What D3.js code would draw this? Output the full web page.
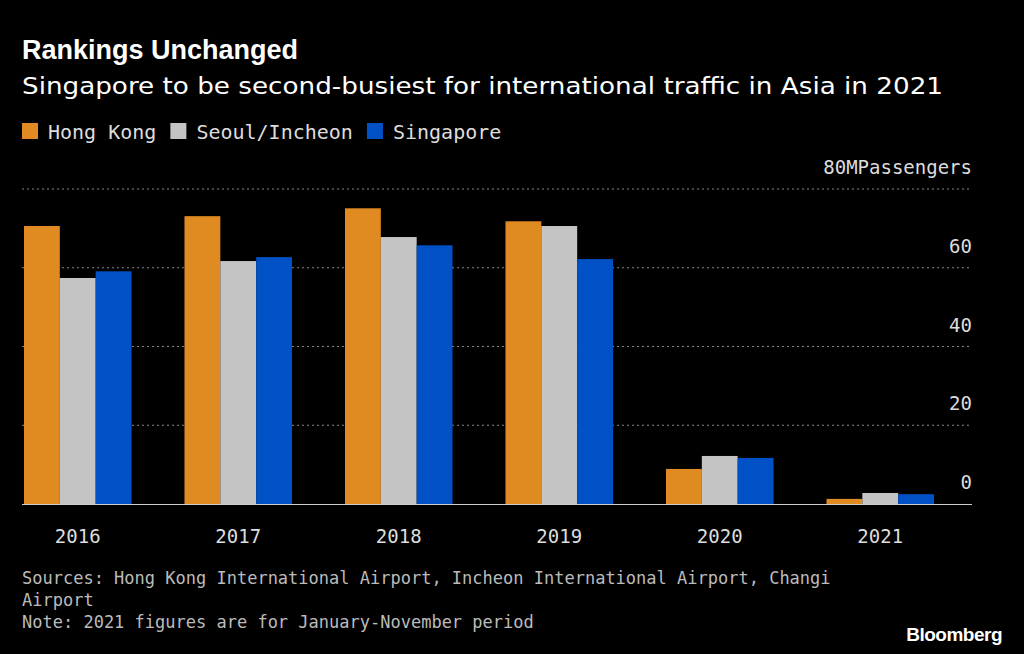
<!DOCTYPE html>
<html><head><meta charset="utf-8">
<script src="https://cdn.jsdelivr.net/npm/d3@7"></script>
<style>body{margin:0;background:#000}text{font-family:"DejaVu Sans Mono",monospace;fill:#ddd}</style>
</head><body><svg id="c" width="1024" height="654"></svg>
<script>
const years = ["2016","2017","2018","2019","2020","2021"];
const seriesNames = ["Hong Kong","Seoul/Incheon","Singapore"];
const hongKong = [70.6,73.1,75.1,71.8,8.9,1.3];
const seoul = [57.4,61.7,67.8,70.6,12.2,2.8];
const singapore = [59.1,62.7,65.7,62.2,11.7,2.5];
const yTicks = [0,20,40,60,80];
const colors = ["#e08b22","#c4c4c4","#0051c6"];

const svg = d3.select("#c");
const series = [hongKong, seoul, singapore];
const x = d3.scaleBand().domain(years).range([-2.5,960.5]).paddingInner(0.33).paddingOuter(0.165);
const xs = d3.scaleBand().domain(seriesNames).range([0,x.bandwidth()]);
const y = d3.scaleLinear().domain([0,80]).range([504,189]);

svg.append("text").attr("x",22).attr("y",59).text("Rankings Unchanged")
  .style("font-family","Liberation Sans, Arial").style("font-weight","bold").style("font-size","27px").style("fill","#fff");
const sub = svg.append("text").attr("x",22).attr("y",94).text("Singapore to be second-busiest for international traffic in Asia in 2021")
  .style("font-family","DejaVu Sans").style("font-size","23px").style("fill","#fff");
sub.attr("textLength",921).attr("lengthAdjust","spacingAndGlyphs");

let lx = 22;
const lg = svg.append("g");
seriesNames.forEach((n,i)=>{
  lg.append("rect").attr("x",lx).attr("y",123).attr("width",16).attr("height",16).attr("fill",colors[i]);
  const t = lg.append("text").attr("x",lx+26).attr("y",139).text(n).style("font-size","20px");
  lx += 26 + t.node().getComputedTextLength() + 14;
});

yTicks.forEach(v=>{
  if (v>0) svg.append("line").attr("x1",22).attr("x2",972).attr("y1",y(v)).attr("y2",y(v))
    .attr("stroke","#888").attr("stroke-dasharray","2,3");
  svg.append("text").attr("x",972).attr("y",y(v)-15).attr("text-anchor","end")
    .text(v===80?"80MPassengers":v).style("font-size","19px");
});

series.forEach((s,i)=>{
  svg.append("g").selectAll("rect").data(s).join("rect")
    .attr("x",(d,j)=>x(years[j])+xs(seriesNames[i])).attr("width",xs.bandwidth())
    .attr("y",d=>y(d)).attr("height",d=>y(0)-y(d)).attr("fill",colors[i]);
});

svg.append("line").attr("x1",22).attr("x2",972).attr("y1",y(0)+0.5).attr("y2",y(0)+0.5).attr("stroke","#ccc");
years.forEach(yr=>{
  svg.append("text").attr("x",x(yr)+x.bandwidth()/2).attr("y",543).attr("text-anchor","middle").text(yr).style("font-size","19px");
});

["Sources: Hong Kong International Airport, Incheon International Airport, Changi","Airport","Note: 2021 figures are for January-November period"]
  .forEach((t,i)=>svg.append("text").attr("x",22).attr("y",584+i*22).text(t).style("font-size","17px").style("fill","#bbb"));
svg.append("text").attr("x",1002).attr("y",641).attr("text-anchor","end").text("Bloomberg")
  .style("font-family","Liberation Sans, Arial").style("font-weight","bold").style("font-size","19px").style("fill","#fff").style("letter-spacing","-0.5px");
</script></body></html>
